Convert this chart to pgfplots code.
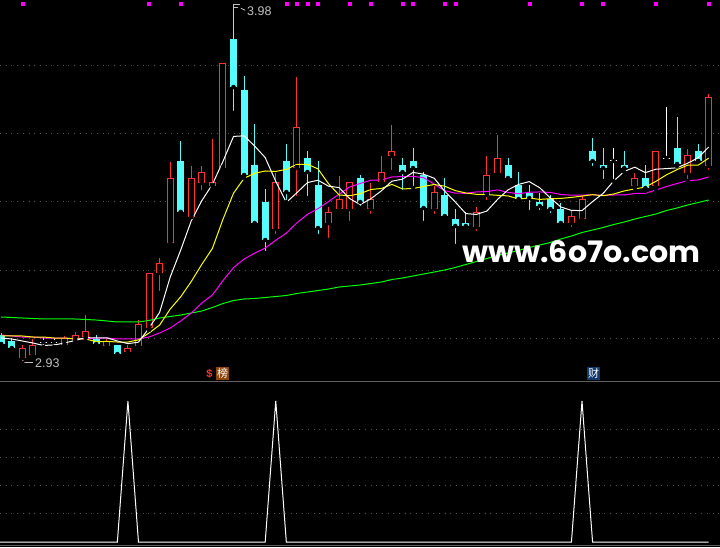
\documentclass[border=0pt]{standalone}
\usepackage{fontspec}
\setmainfont{Liberation Sans}
\newfontfamily\cjk{Noto Sans CJK SC}
\newfontfamily\wmfont{Poppins}
\usepackage{graphicx}
\usepackage{pgfplots}
\usepackage{pgfplotstable}
\pgfplotsset{compat=1.18}
\definecolor{upred}{RGB}{255,50,50}
\definecolor{dncyan}{RGB}{84,252,252}
\definecolor{mayel}{RGB}{255,255,0}
\definecolor{mamag}{RGB}{255,0,255}
\definecolor{magrn}{RGB}{0,255,0}
\definecolor{labgray}{RGB}{192,192,192}
\definecolor{gridgray}{RGB}{85,85,85}
\definecolor{sepgray}{RGB}{95,95,95}
\definecolor{bangbg}{RGB}{140,70,12}
\definecolor{caibg}{RGB}{16,56,110}

% candles: x = bar index, o h l c = open high low close
\pgfplotstableread{
x o h l c
2 2.9412 2.9794 2.9265 2.9706
3 2.9500 2.9971 2.9471 2.9794
6 2.9794 3.0059 2.9735 3.0000
7 2.9941 3.0176 2.9824 3.0088
8 3.0029 3.0676 3.0000 3.0206
10 2.9765 2.9971 2.9706 2.9912
12 2.9588 2.9794 2.9500 2.9706
13 2.9765 3.0529 2.9735 3.0412
14 3.0294 3.1912 3.0235 3.1912
15 3.1912 3.2353 3.1324 3.2206
16 3.2794 3.5176 3.2735 3.4706
18 3.3559 3.5059 3.3559 3.4706
19 3.4559 3.5059 3.4294 3.4882
20 3.4471 3.5853 3.4382 3.4588
21 3.5000 3.8088 3.4941 3.8088
26 3.3206 3.4853 3.3000 3.4588
28 3.5000 3.7676 3.4118 3.6206
31 3.3382 3.3853 3.2882 3.3706
32 3.3794 3.4765 3.3706 3.4088
33 3.3794 3.4588 3.3382 3.4588
35 3.3794 3.4559 3.3588 3.4088
36 3.4588 3.5353 3.4529 3.4882
37 3.5353 3.6265 3.4882 3.5500
41 3.3794 3.4471 3.3588 3.4294
45 3.3265 3.3853 3.3088 3.3706
46 3.4206 3.5353 3.4000 3.4794
47 3.4853 3.5971 3.4735 3.5294
54 3.3382 3.3765 3.3206 3.3588
55 3.3500 3.4206 3.3412 3.4088
60 3.4471 3.4853 3.4412 3.4706
62 3.4471 3.5500 3.4382 3.5500
65 3.4853 3.5559 3.4618 3.5382
67 3.5059 3.7176 3.4882 3.7088
}\tabUp

\pgfplotstableread{
x o h l c
0 3.0088 3.0147 2.9765 2.9824
1 2.9912 3.0000 2.9588 2.9706
9 2.9971 3.0088 2.9794 2.9824
11 2.9794 2.9794 2.9441 2.9529
17 3.5206 3.5794 3.3706 3.3706
22 3.8794 3.9794 3.6618 3.7382
23 3.7294 3.7706 3.4706 3.4794
24 3.5088 3.6294 3.3294 3.3382
25 3.4000 3.4382 3.2500 3.2882
27 3.5206 3.5706 3.4000 3.4294
29 3.5294 3.5500 3.4118 3.4882
30 3.4500 3.5206 3.3000 3.3235
34 3.4706 3.4794 3.3824 3.4000
38 3.5088 3.5294 3.4294 3.4882
39 3.5206 3.5588 3.4412 3.5000
40 3.4794 3.4882 3.3382 3.3824
42 3.4206 3.4706 3.3559 3.3588
43 3.3500 3.3794 3.2706 3.3294
44 3.3382 3.3706 3.3206 3.3294
48 3.5088 3.5294 3.4588 3.4706
49 3.4500 3.4882 3.4000 3.4088
50 3.4265 3.4500 3.3706 3.4118
51 3.4000 3.4265 3.3706 3.3882
52 3.4088 3.4206 3.3618 3.3794
53 3.3794 3.3971 3.3294 3.3382
56 3.5500 3.5882 3.5000 3.5206
57 3.5088 3.5588 3.4618 3.5000
59 3.5088 3.5500 3.4882 3.5000
61 3.4706 3.5088 3.4324 3.4412
64 3.5588 3.6500 3.5059 3.5118
66 3.5500 3.5706 3.5206 3.5206
}\tabDn

\pgfplotstableread{
x o h l c
4 2.9882 3.0029 2.9735 2.9882
5 2.9882 3.0000 2.9735 2.9882
58 3.5206 3.5588 3.4618 3.5206
63 3.5294 3.6794 3.5206 3.5294
}\tabDj

% moving averages MA5 MA10 MA20 MA60
\pgfplotstableread{
x m5 m10 m20 m60
0 3.0000 3.0059 3.0088 3.0618
1 2.9971 3.0059 3.0059 3.0603
2 2.9912 3.0059 3.0029 3.0588
3 2.9853 3.0029 3.0029 3.0574
4 2.9782 3.0029 3.0000 3.0559
5 2.9794 3.0000 3.0000 3.0559
6 2.9853 3.0000 3.0000 3.0559
7 2.9929 2.9971 2.9971 3.0559
8 3.0012 2.9971 2.9971 3.0544
9 3.0000 2.9891 3.0000 3.0529
10 3.0006 2.9900 3.0000 3.0500
11 2.9912 2.9882 2.9971 3.0471
12 2.9835 2.9882 2.9971 3.0471
13 2.9876 2.9944 2.9971 3.0471
14 3.0294 3.0147 3.0029 3.0515
15 3.0753 3.0379 3.0147 3.0588
16 3.1788 3.0850 3.0294 3.0632
17 3.2588 3.1212 3.0500 3.0676
18 3.3447 3.1662 3.0735 3.0735
19 3.4041 3.2168 3.1029 3.0794
20 3.4518 3.2635 3.1268 3.0897
21 3.5194 3.3491 3.1687 3.1015
22 3.5929 3.4259 3.2071 3.1103
23 3.5947 3.4697 3.2321 3.1147
24 3.5647 3.4844 3.2496 3.1162
25 3.5306 3.4912 3.2646 3.1191
26 3.4606 3.4900 3.2875 3.1221
27 3.3988 3.4959 3.3085 3.1250
28 3.4271 3.5109 3.3385 3.1309
29 3.4571 3.5109 3.3638 3.1353
30 3.4641 3.4974 3.3804 3.1397
31 3.4465 3.4535 3.4013 3.1441
32 3.4424 3.4206 3.4232 3.1500
33 3.4100 3.4185 3.4441 3.1529
34 3.3924 3.4247 3.4546 3.1559
35 3.4094 3.4368 3.4640 3.1603
36 3.4329 3.4397 3.4649 3.1647
37 3.4612 3.4518 3.4738 3.1721
38 3.4671 3.4385 3.4747 3.1765
39 3.4871 3.4397 3.4753 3.1824
40 3.4818 3.4456 3.4715 3.1882
41 3.4700 3.4515 3.4525 3.1941
42 3.4318 3.4465 3.4335 3.2000
43 3.4000 3.4335 3.4260 3.2074
44 3.3659 3.4265 3.4256 3.2162
45 3.3635 3.4226 3.4297 3.2250
46 3.3735 3.4218 3.4307 3.2338
47 3.4076 3.4197 3.4357 3.2426
48 3.4359 3.4179 3.4282 3.2500
49 3.4518 3.4088 3.4243 3.2574
50 3.4600 3.4118 3.4287 3.2662
51 3.4418 3.4076 3.4296 3.2735
52 3.4118 3.4097 3.4281 3.2809
53 3.3853 3.4106 3.4221 3.2912
54 3.3753 3.4135 3.4200 3.3000
55 3.3747 3.4174 3.4200 3.3103
56 3.4012 3.4215 3.4216 3.3176
57 3.4253 3.4185 3.4191 3.3250
58 3.4618 3.4235 3.4207 3.3338
59 3.4900 3.4326 3.4207 3.3412
60 3.5024 3.4385 3.4251 3.3500
61 3.4865 3.4438 3.4257 3.3574
62 3.4965 3.4609 3.4353 3.3647
63 3.4982 3.4800 3.4453 3.3750
64 3.5006 3.4953 3.4544 3.3824
65 3.5141 3.5082 3.4628 3.3912
66 3.5300 3.5082 3.4649 3.3985
67 3.5618 3.5291 3.4738 3.4059
}\tabMA

\pgfplotstableread{
x y
2 3.9824
14 3.9824
17 3.9824
27 3.9824
28 3.9824
29 3.9824
30 3.9824
33 3.9824
35 3.9824
38 3.9824
39 3.9824
42 3.9824
43 3.9824
50 3.9824
55 3.9824
57 3.9824
62 3.9824
67 3.9824
}\tabDot

\pgfplotsset{
  cnd/.style={only marks, mark=none, error bars/y dir=plus, error bars/y explicit, error bars/error mark=none},
}

\begin{document}
\begin{tikzpicture}
\useasboundingbox (0,0) rectangle (720pt,547pt);
\fill[black] (0,0) rectangle (720pt,547pt);

\begin{axis}[
  at={(0pt,166pt)}, anchor=south west,
  width=720pt, height=381pt, scale only axis,
  xmin=-0.1136, xmax=68.068, ymin=2.873529, ymax=3.994118,
  enlargelimits=false,
  axis line style={draw=none}, major tick length=0pt,
  xtick=\empty, ytick={3.0,3.2,3.4,3.6,3.8}, yticklabels={},
  ymajorgrids, grid style={draw=gridgray, line width=1pt, dash pattern=on 1pt off 4.7pt},
]
% wicks
\addplot[cnd, error bars/error bar style={draw=upred, line width=1pt}]
  table[x=x, y=l, y error expr=\thisrow{h}-\thisrow{l}] {\tabUp};
\addplot[cnd, error bars/error bar style={draw=dncyan, line width=1pt}]
  table[x=x, y=l, y error expr=\thisrow{h}-\thisrow{l}] {\tabDn};
\addplot[cnd, error bars/error bar style={draw=white, line width=1pt}]
  table[x=x, y=l, y error expr=\thisrow{h}-\thisrow{l}] {\tabDj};
% bodies
\addplot[cnd, error bars/error bar style={draw=dncyan, line width=7pt}]
  table[x=x, y=c, y error expr=\thisrow{o}-\thisrow{c}] {\tabDn};
\addplot[cnd, error bars/error bar style={draw=upred, line width=7pt}]
  table[x=x, y=o, y error expr=\thisrow{c}-\thisrow{o}] {\tabUp};
\addplot[cnd, error bars/error bar style={draw=black, line width=5pt}]
  table[x=x, y expr=\thisrow{o}+0.00294, y error expr=\thisrow{c}-\thisrow{o}-0.00588] {\tabUp};
\addplot[only marks, mark=none, error bars/x dir=both, error bars/x fixed=0.33,
  error bars/error mark=none, error bars/error bar style={draw=white, line width=1pt}]
  table[x=x, y=c] {\tabDj};
% moving averages
\addplot[magrn, line width=1pt, mark=none] table[x=x, y=m60] {\tabMA};
\addplot[mamag, line width=1pt, mark=none] table[x=x, y=m20] {\tabMA};
\addplot[mayel, line width=1pt, mark=none] table[x=x, y=m10] {\tabMA};
\addplot[white, line width=1pt, mark=none] table[x=x, y=m5] {\tabMA};
% top signal dots
\addplot[only marks, mark=square*, mark size=1.5pt, color=mamag] table[x=x, y=y] {\tabDot};

% annotations
\draw[labgray, line width=0.8pt] (axis cs:21.98,3.9647) -- (axis cs:21.98,3.9809) -- (axis cs:22.61,3.9809);
\draw[labgray, line width=0.8pt] (axis cs:21.98,3.9735) -- (axis cs:22.40,3.9735);
\draw[labgray, line width=0.8pt] (axis cs:22.70,3.9700) -- (axis cs:23.10,3.9640);
\node[anchor=west, inner sep=0pt, text=labgray, font=\fontsize{12.5}{12.5}\selectfont] at (axis cs:23.28,3.9618) {3.98};
\draw[labgray, line width=0.8pt, <-] (axis cs:1.875,2.9294) -- (axis cs:3.011,2.9294);
\node[anchor=west, inner sep=0pt, text=labgray, font=\fontsize{12.5}{12.5}\selectfont] at (axis cs:3.201,2.9250) {2.93};
\node[inner sep=0pt, text=upred, font=\bfseries\fontsize{11}{11}\selectfont] at (axis cs:19.73,2.8941) {\$};
\node[fill=bangbg, inner sep=0.5pt, minimum size=13pt, text=white, font=\cjk\fontsize{11}{11}\selectfont] at (axis cs:20.96,2.8956) {榜};
\node[fill=caibg, inner sep=0.5pt, minimum size=13pt, text=white, font=\cjk\fontsize{11}{11}\selectfont] at (axis cs:56.09,2.8956) {财};
\node[anchor=base west, inner sep=0pt, text=white] at (axis cs:43.64,3.2235) {\resizebox{238pt}{22pt}{\wmfont\bfseries www.6o7o.com}};
\end{axis}

\begin{axis}[
  at={(0pt,0pt)}, anchor=south west,
  width=720pt, height=166pt, scale only axis,
  xmin=-0.1136, xmax=68.068, ymin=-0.03546, ymax=1.14184,
  enlargelimits=false,
  axis line style={draw=none}, major tick length=0pt,
  xtick=\empty, ytick={0.2,0.4,0.6,0.8}, yticklabels={},
  ymajorgrids, grid style={draw=gridgray, line width=1pt, dash pattern=on 1pt off 4.7pt},
]
\draw[sepgray, line width=1pt] (axis cs:-0.1136,1.1383) -- (axis cs:68.068,1.1383);
\draw[sepgray, line width=1pt] (axis cs:-0.1136,-0.0234) -- (axis cs:68.068,-0.0234);
\addplot[white, line width=1pt, mark=none] coordinates {
(-0.11,0) (0,0) (1,0) (2,0) (3,0) (4,0) (5,0) (6,0) (7,0) (8,0) (9,0) (10,0) (11,0) (12,1) (13,0)
(14,0) (15,0) (16,0) (17,0) (18,0) (19,0) (20,0) (21,0) (22,0) (23,0) (24,0) (25,0) (26,1) (27,0)
(28,0) (29,0) (30,0) (31,0) (32,0) (33,0) (34,0) (35,0) (36,0) (37,0) (38,0) (39,0) (40,0) (41,0)
(42,0) (43,0) (44,0) (45,0) (46,0) (47,0) (48,0) (49,0) (50,0) (51,0) (52,0) (53,0) (54,0) (55,1)
(56,0) (57,0) (58,0) (59,0) (60,0) (61,0) (62,0) (63,0) (64,0) (65,0) (66,0) (67,0)
};
\end{axis}
\end{tikzpicture}
\end{document}
